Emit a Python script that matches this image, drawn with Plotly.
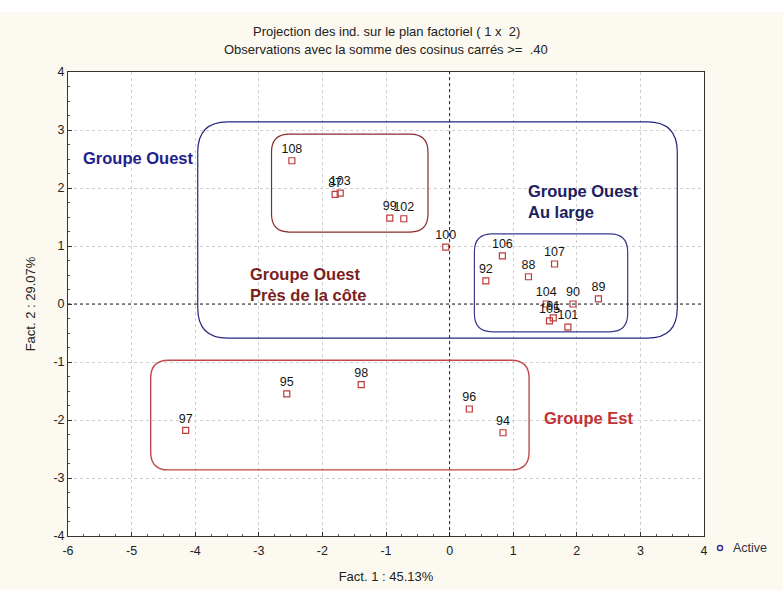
import plotly.graph_objects as go

# ---- data ----
labels = ["108", "87", "103", "99", "102", "100", "106", "92", "88", "107",
          "89", "90", "104", "91", "105", "101",
          "97", "95", "98", "96", "94"]
fact1 = [-2.48, -1.80, -1.72, -0.94, -0.72, -0.06, 0.83, 0.57, 1.24, 1.65,
         2.34, 1.94, 1.52, 1.63, 1.57, 1.86,
         -4.15, -2.56, -1.39, 0.31, 0.84]
fact2 = [2.47, 1.89, 1.91, 1.48, 1.47, 0.98, 0.83, 0.40, 0.47, 0.69,
         0.09, 0.00, 0.00, -0.24, -0.29, -0.40,
         -2.18, -1.55, -1.39, -1.81, -2.22]

x_ticks = [-6, -5, -4, -3, -2, -1, 0, 1, 2, 3, 4]
x_ticktext = ["-6", "-5", "-4", "-3", "-2", "-1", "0", "1", "2", "3", "4"]
y_ticks = [-4, -3, -2, -1, 0, 1, 2, 3, 4]
y_ticktext = ["-4", "-3", "-2", "-1", "0", "1", "2", "3", "4"]

title_lines = ["Projection des ind. sur le plan factoriel ( 1 x  2)",
               "Observations avec la somme des cosinus carrés >=  .40"]
x_title = "Fact. 1 : 45.13%"
y_title = "Fact. 2 : 29.07%"
legend_name = "Active"

# group boxes: (x0, y0, x1, y1) in factor units
box_ouest = (-3.96, -0.59, 3.58, 3.14)
box_cote = (-2.80, 1.24, -0.34, 2.93)
box_large = (0.39, -0.48, 2.80, 1.21)
box_est = (-4.70, -2.86, 1.25, -0.97)

FONT = "Liberation Sans, Arial, sans-serif"


def rrect(b, rx, ry):
    x0, y0, x1, y1 = b
    return (f"M {x0+rx},{y1} L {x1-rx},{y1} Q {x1},{y1} {x1},{y1-ry} "
            f"L {x1},{y0+ry} Q {x1},{y0} {x1-rx},{y0} L {x0+rx},{y0} "
            f"Q {x0},{y0} {x0},{y0+ry} L {x0},{y1-ry} Q {x0},{y1} {x0+rx},{y1} Z")


fig = go.Figure()

fig.add_trace(go.Scatter(
    x=fact1, y=fact2, mode="markers+text", text=labels, name=legend_name,
    textposition="top center",
    textfont=dict(family=FONT, size=12.5, color="#151515"),
    marker=dict(symbol="square-open", size=6, color="#c03a3a",
                line=dict(width=1.2, color="#c03a3a")),
    showlegend=False, cliponaxis=False,
))

shapes = [
    dict(type="rect", xref="paper", yref="paper", x0=-0.2, x1=1.3,
         y0=1.129, y1=1.2, fillcolor="white", line=dict(width=0),
         layer="below"),
    dict(type="line", xref="x", yref="paper", x0=0, x1=0, y0=0, y1=1,
         line=dict(color="#222222", width=1, dash="dot")),
    dict(type="line", xref="paper", yref="y", x0=0, x1=1, y0=0, y1=0,
         line=dict(color="#222222", width=1, dash="dot")),
    dict(type="path", path=rrect(box_ouest, 0.47, 0.52),
         line=dict(color="#26267e", width=1.2)),
    dict(type="path", path=rrect(box_cote, 0.28, 0.31),
         line=dict(color="#8a2a2a", width=1.2)),
    dict(type="path", path=rrect(box_large, 0.28, 0.31),
         line=dict(color="#3a3a8e", width=1.2)),
    dict(type="path", path=rrect(box_est, 0.28, 0.31),
         line=dict(color="#c04848", width=1.4)),
    # legend symbol (small open circle)
    dict(type="circle", xref="paper", yref="paper",
         xsizemode="pixel", ysizemode="pixel",
         xanchor=1.0252, yanchor=-0.0259, x0=-2.5, x1=2.5, y0=-2.5, y1=2.5,
         line=dict(color="#3535a5", width=1.5), fillcolor="rgba(0,0,0,0)"),
]

GF = 16.5
annotations = [
    dict(x=-5.80, y=2.52, text="<b>Groupe Ouest</b>", xanchor="left",
         yanchor="middle", showarrow=False,
         font=dict(family=FONT, size=GF, color="#1e1e8e")),
    dict(x=1.20, y=1.76, text="<b>Groupe Ouest<br>Au large</b>", xanchor="left",
         yanchor="middle", align="left", showarrow=False,
         font=dict(family=FONT, size=GF, color="#20205e")),
    dict(x=-3.17, y=0.34, text="<b>Groupe Ouest<br>Près de la côte</b>",
         xanchor="left", yanchor="middle", align="left", showarrow=False,
         font=dict(family=FONT, size=GF, color="#7a1e1e")),
    dict(x=1.46, y=-1.97, text="<b>Groupe Est</b>", xanchor="left",
         yanchor="middle", showarrow=False,
         font=dict(family=FONT, size=GF, color="#c23232")),
    dict(xref="paper", yref="paper", x=0.5, y=1.088, text=title_lines[0],
         showarrow=False, xanchor="center", yanchor="middle",
         font=dict(family=FONT, size=13, color="#222222")),
    dict(xref="paper", yref="paper", x=0.5, y=1.048, text=title_lines[1],
         showarrow=False, xanchor="center", yanchor="middle",
         font=dict(family=FONT, size=13, color="#222222")),
    dict(xref="paper", yref="paper", x=1.0425, y=-0.0259, text=legend_name,
         showarrow=False, xanchor="left", yanchor="middle",
         font=dict(family=FONT, size=12.5, color="#333333")),
]

axis_common = dict(
    showline=True, linecolor="#333333", linewidth=1, mirror=True,
    showgrid=True, gridcolor="#cfcfcf", griddash="dot", gridwidth=1,
    zeroline=False, ticks="inside", ticklen=4, tickcolor="#333333",
    tickfont=dict(family=FONT, size=12.5, color="#222222"),
    minor=dict(ticks="inside", ticklen=2, tickcolor="#555555", dtick=0.25,
               showgrid=False),
    automargin=False,
)

fig.update_layout(
    width=783, height=590,
    margin=dict(l=68, r=79, t=72, b=54),
    paper_bgcolor="#fcf9f0", plot_bgcolor="white",
    shapes=shapes, annotations=annotations,
    showlegend=False,
    xaxis=dict(range=[-6, 4], tickvals=x_ticks, ticktext=x_ticktext,
               ticklabelstandoff=3, **axis_common,
               title=dict(text=x_title, standoff=14,
                          font=dict(family=FONT, size=13, color="#222222"))),
    yaxis=dict(range=[-4, 4], tickvals=y_ticks, ticktext=y_ticktext,
               **axis_common,
               title=dict(text=y_title, standoff=14,
                          font=dict(family=FONT, size=13, color="#222222"))),
)

fig.write_html("out.html", config={"displayModeBar": False},
               post_script="document.body.style.margin='0';")
